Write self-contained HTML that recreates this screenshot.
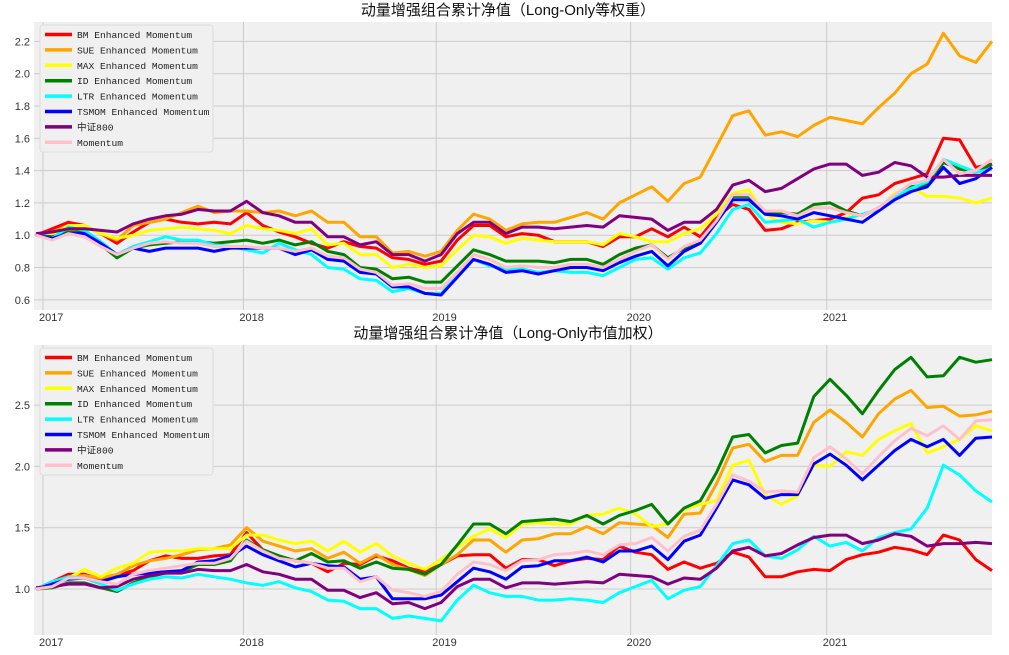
<!DOCTYPE html>
<html><head><meta charset="utf-8">
<style>
html,body{margin:0;padding:0;background:#fff;}
svg{display:block;font-family:"Liberation Sans","Noto Sans CJK SC",sans-serif;}
</style></head>
<body>
<svg id="fig" width="1009" height="655" xmlns="http://www.w3.org/2000/svg"></svg>
<script>
const yearLabels = ["2017","2018","2019","2020","2021"];
const seriesNames = ["BM Enhanced Momentum","SUE Enhanced Momentum","MAX Enhanced Momentum","ID Enhanced Momentum","LTR Enhanced Momentum","TSMOM Enhanced Momentum","中证800","Momentum"];
const topTicks = [0.6,0.8,1.0,1.2,1.4,1.6,1.8,2.0,2.2];
const botTicks = [1.0,1.5,2.0,2.5];

// Top panel: equal-weight
const topBM = [1.0,1.04,1.08,1.06,1.01,0.95,1.02,1.08,1.10,1.08,1.07,1.08,1.07,1.14,1.06,1.02,0.99,0.95,0.92,0.96,0.93,0.92,0.86,0.85,0.82,0.84,0.97,1.06,1.06,0.99,1.01,1.0,0.96,0.96,0.96,0.93,0.99,0.99,1.04,0.99,1.05,0.99,1.11,1.19,1.16,1.03,1.04,1.08,1.09,1.10,1.14,1.23,1.25,1.32,1.35,1.38,1.60,1.59,1.42,1.44];
const topSUE = [1.0,1.02,1.06,1.06,1.01,0.97,1.06,1.08,1.10,1.14,1.18,1.14,1.15,1.15,1.14,1.15,1.12,1.15,1.08,1.08,0.99,0.99,0.89,0.90,0.87,0.90,1.03,1.13,1.10,1.03,1.07,1.08,1.08,1.11,1.14,1.10,1.20,1.25,1.30,1.21,1.32,1.36,1.55,1.74,1.77,1.62,1.64,1.61,1.68,1.73,1.71,1.69,1.79,1.88,2.0,2.06,2.25,2.11,2.07,2.20];
const topMAX = [1.0,1.0,1.06,1.06,1.01,0.98,1.0,1.03,1.04,1.05,1.04,1.03,1.01,1.06,1.04,1.03,1.01,1.04,0.94,0.95,0.88,0.88,0.80,0.82,0.80,0.81,0.91,1.0,0.99,0.95,0.98,0.97,0.96,0.96,0.96,0.94,1.01,0.99,0.96,0.96,1.01,1.04,1.13,1.26,1.28,1.13,1.08,1.07,1.09,1.08,1.11,1.13,1.16,1.26,1.30,1.24,1.24,1.23,1.20,1.23];
const topID = [1.0,0.99,1.02,1.02,0.94,0.86,0.92,0.94,0.95,0.96,0.96,0.95,0.96,0.97,0.95,0.97,0.94,0.96,0.90,0.88,0.80,0.79,0.73,0.74,0.71,0.71,0.81,0.91,0.88,0.84,0.84,0.84,0.83,0.85,0.85,0.82,0.88,0.92,0.94,0.86,0.92,0.96,1.09,1.24,1.24,1.14,1.14,1.13,1.19,1.20,1.15,1.12,1.17,1.24,1.30,1.31,1.45,1.41,1.39,1.44];
const topLTR = [1.0,0.98,1.05,1.03,0.96,0.88,0.93,0.96,0.99,0.97,0.97,0.94,0.93,0.91,0.89,0.95,0.91,0.88,0.80,0.79,0.73,0.72,0.65,0.67,0.64,0.64,0.75,0.85,0.81,0.79,0.79,0.77,0.78,0.77,0.77,0.75,0.80,0.85,0.86,0.79,0.86,0.89,1.01,1.16,1.19,1.08,1.09,1.10,1.05,1.08,1.10,1.13,1.16,1.24,1.29,1.33,1.47,1.43,1.39,1.41];
const topTSMOM = [1.0,0.98,1.01,1.01,0.95,0.88,0.92,0.90,0.92,0.92,0.92,0.90,0.92,0.92,0.92,0.92,0.88,0.91,0.85,0.84,0.77,0.76,0.68,0.68,0.64,0.63,0.74,0.85,0.82,0.77,0.78,0.76,0.78,0.80,0.80,0.78,0.83,0.87,0.90,0.81,0.90,0.95,1.08,1.22,1.22,1.13,1.12,1.10,1.14,1.12,1.10,1.08,1.15,1.22,1.27,1.30,1.42,1.32,1.35,1.42];
const topCSI = [1.01,1.02,1.04,1.04,1.03,1.02,1.07,1.10,1.12,1.13,1.16,1.15,1.15,1.21,1.14,1.12,1.08,1.08,0.99,0.99,0.94,0.96,0.88,0.88,0.84,0.88,1.01,1.08,1.08,1.01,1.05,1.05,1.04,1.05,1.06,1.05,1.12,1.11,1.10,1.03,1.08,1.08,1.16,1.31,1.34,1.27,1.29,1.35,1.41,1.44,1.44,1.37,1.39,1.45,1.43,1.36,1.36,1.37,1.37,1.37];
const topMOM = [1.0,0.97,1.01,0.99,0.93,0.88,0.92,0.95,0.96,0.95,0.95,0.93,0.93,0.93,0.92,0.92,0.90,0.92,0.87,0.86,0.79,0.77,0.69,0.70,0.67,0.67,0.77,0.88,0.85,0.80,0.81,0.80,0.80,0.82,0.82,0.80,0.85,0.90,0.94,0.85,0.93,0.97,1.09,1.25,1.25,1.15,1.15,1.12,1.17,1.17,1.14,1.12,1.17,1.25,1.32,1.34,1.47,1.38,1.40,1.47];

// Bottom panel: cap-weighted
const botBM = [1.0,1.06,1.12,1.12,1.08,1.11,1.15,1.23,1.27,1.25,1.25,1.27,1.28,1.46,1.32,1.27,1.23,1.21,1.14,1.21,1.20,1.27,1.23,1.17,1.14,1.20,1.27,1.28,1.28,1.17,1.24,1.24,1.19,1.23,1.25,1.24,1.35,1.30,1.28,1.16,1.22,1.17,1.21,1.30,1.26,1.10,1.10,1.14,1.16,1.15,1.24,1.28,1.30,1.34,1.32,1.28,1.44,1.40,1.24,1.15];
const botSUE = [1.0,1.05,1.10,1.11,1.09,1.12,1.19,1.23,1.25,1.28,1.32,1.33,1.36,1.50,1.39,1.35,1.31,1.33,1.25,1.30,1.21,1.28,1.20,1.16,1.11,1.20,1.28,1.40,1.40,1.30,1.40,1.41,1.45,1.45,1.51,1.45,1.54,1.53,1.52,1.42,1.61,1.62,1.86,2.15,2.18,2.04,2.09,2.09,2.36,2.46,2.36,2.24,2.43,2.55,2.62,2.48,2.49,2.41,2.42,2.45];
const botMAX = [1.0,1.04,1.09,1.16,1.10,1.17,1.21,1.30,1.31,1.31,1.33,1.33,1.33,1.44,1.44,1.40,1.37,1.39,1.31,1.39,1.30,1.37,1.27,1.21,1.16,1.24,1.34,1.43,1.49,1.42,1.53,1.54,1.53,1.53,1.60,1.61,1.66,1.61,1.51,1.53,1.65,1.69,1.72,2.01,2.05,1.77,1.69,1.76,2.01,2.00,2.12,2.09,2.22,2.29,2.35,2.11,2.16,2.22,2.33,2.29];
const botID = [1.0,1.01,1.05,1.05,1.01,0.98,1.05,1.10,1.13,1.14,1.20,1.20,1.23,1.40,1.32,1.27,1.23,1.29,1.22,1.23,1.17,1.22,1.17,1.16,1.12,1.20,1.36,1.53,1.53,1.45,1.55,1.56,1.57,1.55,1.60,1.53,1.60,1.64,1.69,1.53,1.66,1.72,1.95,2.24,2.26,2.11,2.17,2.19,2.57,2.71,2.58,2.43,2.62,2.79,2.89,2.73,2.74,2.89,2.85,2.87];
const botLTR = [1.0,1.06,1.10,1.09,1.04,0.99,1.04,1.08,1.10,1.09,1.12,1.10,1.08,1.05,1.03,1.06,1.01,0.98,0.91,0.90,0.84,0.84,0.76,0.78,0.76,0.74,0.91,1.03,0.97,0.94,0.94,0.91,0.91,0.92,0.91,0.89,0.97,1.02,1.07,0.92,0.99,1.02,1.19,1.37,1.40,1.27,1.25,1.32,1.43,1.35,1.38,1.31,1.42,1.46,1.49,1.66,2.01,1.93,1.80,1.71];
const botTSMOM = [1.0,1.04,1.08,1.09,1.06,1.10,1.12,1.13,1.14,1.15,1.22,1.23,1.27,1.35,1.28,1.23,1.18,1.21,1.19,1.18,1.08,1.10,0.92,0.92,0.92,0.95,1.06,1.17,1.14,1.08,1.18,1.19,1.23,1.23,1.26,1.22,1.31,1.31,1.35,1.24,1.39,1.44,1.66,1.89,1.85,1.74,1.77,1.77,2.02,2.10,2.01,1.89,2.01,2.13,2.22,2.16,2.22,2.09,2.23,2.24];
const botCSI = [1.01,1.02,1.04,1.04,1.01,1.02,1.08,1.11,1.13,1.13,1.16,1.15,1.15,1.20,1.14,1.12,1.08,1.08,0.99,0.99,0.93,0.97,0.88,0.89,0.84,0.89,1.02,1.08,1.08,1.01,1.05,1.05,1.04,1.05,1.06,1.05,1.12,1.11,1.10,1.04,1.09,1.08,1.17,1.31,1.34,1.27,1.29,1.36,1.42,1.44,1.44,1.37,1.40,1.45,1.43,1.35,1.37,1.37,1.38,1.37];
const botMOM = [1.0,1.02,1.09,1.09,1.06,1.04,1.12,1.15,1.17,1.19,1.21,1.21,1.25,1.39,1.31,1.25,1.23,1.21,1.17,1.17,1.06,1.10,0.99,0.97,0.94,0.98,1.12,1.22,1.20,1.15,1.23,1.24,1.28,1.29,1.31,1.28,1.36,1.37,1.42,1.31,1.43,1.48,1.69,1.93,1.88,1.79,1.80,1.79,2.07,2.16,2.06,1.94,2.08,2.21,2.31,2.25,2.33,2.22,2.37,2.38];

const colors = ["#ff0000","#ffa500","#ffff00","#008000","#00ffff","#0000ff","#800080","#ffc0cb"];
const slugs = ["bm","sue","max","id","ltr","tsmom","csi800","momentum"];
const NS = "http://www.w3.org/2000/svg";
const svg = document.getElementById("fig");
function mk(tag, attrs, parent){const e=document.createElementNS(NS,tag);for(const k in attrs)e.setAttribute(k,attrs[k]);(parent||svg).appendChild(e);return e;}

function panel(opt){
  const g = mk("g",{});
  
  
  const L=34,R=992,T=opt.top,B=opt.bottom;
  const n = opt.series[0].length;
  const x = i => L+2 + i*(R-L-2)/(n-1);
  const y = v => B - (v-opt.ymin)/(opt.ymax-opt.ymin)*(B-T);
  const bg = mk("rect",{x:L,y:T,width:R-L,height:B-T,fill:"#f0f0f0"},g);
  
  
  // y grid + ticks
  opt.yticks.forEach(v=>{
    const yy=y(v);
    mk("line",{x1:L,x2:R,y1:yy,y2:yy,stroke:"#cbcbcb","stroke-width":1},g);
    const t=mk("text",{x:L-4,y:yy+4,"text-anchor":"end","font-size":11,fill:"#333"},g);
    t.textContent=opt.fmt(v);
    
    
  });
  // x grid + ticks
  opt.xtickIdx.forEach((ti,k)=>{
    const xx=x(ti);
    mk("line",{x1:xx,x2:xx,y1:T,y2:B,stroke:"#cbcbcb","stroke-width":1},g);
    const t=mk("text",{x:xx-4,y:B+11,"font-size":11,fill:"#333"},g);
    t.textContent=yearLabels[k];
    
    
  });
  // series
  opt.series.forEach((s,si)=>{
    const p=mk("polyline",{points:s.map((v,i)=>x(i).toFixed(1)+","+y(v).toFixed(1)).join(" "),fill:"none",stroke:colors[si],"stroke-width":3,"stroke-linejoin":"round"},g);
    
    
  });
  // title
  const tt=mk("text",{x:508,y:T-7,"text-anchor":"middle","font-size":15,fill:"#111"},g);
  tt.textContent=opt.title;
  
  
  // legend
  const lg=mk("g",{},g);
  
  
  mk("rect",{x:40,y:T+3,width:173,height:127,fill:"#f0f0f0",stroke:"#dddddd",rx:3},lg);
  seriesNames.forEach((nm,si)=>{
    const ly=T+12.5+si*15.4;
    const e=mk("g",{},lg);
    
    
    mk("line",{x1:45,x2:72,y1:ly,y2:ly,stroke:colors[si],"stroke-width":3.5},e);
    const t=mk("text",{x:77,y:ly+3.5,"font-size":9.6,fill:"#222","font-family":"'Liberation Mono','Noto Sans CJK SC',monospace"},e);
    t.textContent=nm;
  });
}
panel({name:"equal-weight-panel",title:"动量增强组合累计净值（Long-Only等权重）",top:22,bottom:310,ymin:0.537,ymax:2.32,
  yticks:topTicks,fmt:v=>v.toFixed(1),xtickIdx:[0.43,12.8,24.7,36.7,48.8],
  series:[topBM,topSUE,topMAX,topID,topLTR,topTSMOM,topCSI,topMOM]});
panel({name:"cap-weight-panel",title:"动量增强组合累计净值（Long-Only市值加权）",top:345,bottom:635,ymin:0.625,ymax:2.99,
  yticks:botTicks,fmt:v=>v.toFixed(1),xtickIdx:[0.43,12.8,24.7,36.7,48.8],
  series:[botBM,botSUE,botMAX,botID,botLTR,botTSMOM,botCSI,botMOM]});
</script>
</body></html>
